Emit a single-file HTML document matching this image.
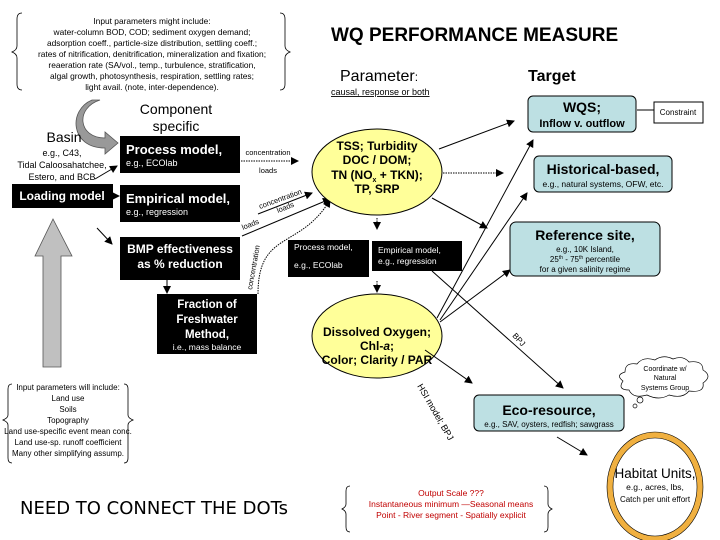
<!DOCTYPE html>
<html><head><meta charset="utf-8"><style>
html,body{margin:0;padding:0;background:#fff}
svg{display:block;font-family:"Liberation Sans",Arial,sans-serif}
</style></head><body>
<svg width="720" height="540" viewBox="0 0 720 540" xmlns="http://www.w3.org/2000/svg">
<defs>
<marker id="a" markerWidth="8" markerHeight="8" refX="7" refY="4" orient="auto" markerUnits="userSpaceOnUse"><path d="M0,0 L8,4 L0,8z" fill="#000"/></marker>
</defs>
<path d="M22,13 q-5,0 -5,6 v27 q0,4 -5,6 q5,2 5,6 v26 q0,6 5,6" fill="none" stroke="#000" stroke-width="0.8"/>
<path d="M280,13 q5,0 5,6 v27 q0,4 5,6 q-5,2 -5,6 v26 q0,6 -5,6" fill="none" stroke="#000" stroke-width="0.8"/>
<g font-size="8.4" text-anchor="middle">
<text x="152" y="24">Input parameters might include:</text>
<text x="152" y="35">water-column BOD, COD; sediment oxygen demand;</text>
<text x="152" y="46">adsorption coeff., particle-size distribution, settling coeff.;</text>
<text x="152" y="57">rates of nitrification, denitrification, mineralization and fixation;</text>
<text x="152" y="68">reaeration rate (SA/vol., temp., turbulence, stratification,</text>
<text x="152" y="79">algal growth, photosynthesis, respiration, settling rates;</text>
<text x="152" y="90">light avail. (note, inter-dependence).</text>
</g>
<text x="331" y="41" font-size="19" font-weight="bold">WQ PERFORMANCE MEASURE</text>
<text x="340" y="81" font-size="16">Parameter<tspan font-size="12">:</tspan></text>
<text x="528" y="81" font-size="16" font-weight="bold">Target</text>
<text x="331" y="95" font-size="9" text-decoration="underline">causal, response or both</text>
<path d="M100,100 C75,108 78,138 105,138 L105,132 L118,143 L105,154 L105,148 C70,148 68,110 92,100z" fill="#999" stroke="#555" stroke-width="0.8"/>
<text x="176" y="114" font-size="14" text-anchor="middle">Component</text>
<text x="176" y="131" font-size="14" text-anchor="middle">specific</text>
<text x="64" y="142" font-size="14" text-anchor="middle">Basin</text>
<g font-size="9" text-anchor="middle"><text x="62" y="156">e.g., C43,</text><text x="62" y="168">Tidal Caloosahatchee,</text><text x="62" y="180">Estero, and BCB</text></g>
<line x1="95" y1="179" x2="117" y2="166" stroke="#000" marker-end="url(#a)"/>
<rect x="120" y="136" width="120" height="37" fill="#000"/>
<text x="126" y="154" font-size="13" font-weight="bold" fill="#fff">Process model,</text>
<text x="126" y="166" font-size="9" fill="#fff">e.g., ECOlab</text>
<rect x="12" y="184" width="101" height="24" fill="#000"/>
<text x="62" y="200" font-size="12" font-weight="bold" fill="#fff" text-anchor="middle">Loading model</text>
<line x1="113" y1="196" x2="119" y2="196" stroke="#000" marker-end="url(#a)"/>
<rect x="120" y="185" width="120" height="37" fill="#000"/>
<text x="126" y="203" font-size="13" font-weight="bold" fill="#fff">Empirical model,</text>
<text x="126" y="215" font-size="9" fill="#fff">e.g., regression</text>
<line x1="97" y1="228" x2="112" y2="244" stroke="#000" marker-end="url(#a)"/>
<rect x="120" y="237" width="120" height="43" fill="#000"/>
<text x="180" y="253" font-size="12" font-weight="bold" fill="#fff" text-anchor="middle">BMP effectiveness</text>
<text x="180" y="268" font-size="12" font-weight="bold" fill="#fff" text-anchor="middle">as % reduction</text>
<line x1="167" y1="280" x2="167" y2="293" stroke="#000" marker-end="url(#a)"/>
<rect x="157" y="294" width="100" height="60" fill="#000"/>
<g fill="#fff" text-anchor="middle" font-size="11.5" font-weight="bold"><text x="207" y="308">Fraction of</text><text x="207" y="323">Freshwater</text><text x="207" y="338">Method,</text></g>
<text x="207" y="350" font-size="8.5" fill="#fff" text-anchor="middle">i.e., mass balance</text>
<path d="M43,367 L43,256 L35,256 L53,219 L72,256 L61,256 L61,367z" fill="#c0c0c0" stroke="#555" stroke-width="0.8"/>
<text x="268" y="155" font-size="7.5" text-anchor="middle">concentration</text>
<line x1="241" y1="161" x2="298" y2="161" stroke="#000" stroke-dasharray="1.5,1" marker-end="url(#a)"/>
<text x="268" y="173" font-size="7.5" text-anchor="middle">loads</text>
<line x1="258" y1="214" x2="312" y2="193" stroke="#000" marker-end="url(#a)"/>
<text x="260" y="209" font-size="7.5" transform="rotate(-20 260 209)">concentration</text>
<line x1="242" y1="236" x2="330" y2="199" stroke="#000" marker-end="url(#a)"/>
<text x="278" y="213" font-size="7.5" transform="rotate(-22 278 213)">loads</text>
<text x="243" y="230" font-size="7.5" transform="rotate(-22 243 230)">loads</text>
<path d="M258,294 C258,230 300,250 330,200" fill="none" stroke="#000" stroke-dasharray="1.5,1" marker-end="url(#a)"/>
<text x="252" y="290" font-size="7.5" transform="rotate(-80 252 290)">concentration</text>
<ellipse cx="377" cy="172" rx="65" ry="43" fill="#ffff99" stroke="#000"/>
<g font-size="12" font-weight="bold" text-anchor="middle"><text x="377" y="150">TSS; Turbidity</text><text x="377" y="164">DOC / DOM;</text><text x="377" y="179">TN (NO<tspan font-size="7" dy="3">x</tspan><tspan dy="-3"> + TKN);</tspan></text><text x="377" y="193">TP, SRP</text></g>
<line x1="377" y1="218" x2="377" y2="229" stroke="#000" stroke-dasharray="1.5,1" marker-end="url(#a)"/>
<rect x="288" y="240" width="81" height="37" fill="#000"/>
<text x="294" y="250" font-size="8.5" fill="#fff">Process model,</text>
<text x="294" y="268" font-size="8.5" fill="#fff">e.g., ECOlab</text>
<rect x="372" y="241" width="90" height="30" fill="#000"/>
<text x="378" y="253" font-size="8.5" fill="#fff">Empirical model,</text>
<text x="378" y="264" font-size="8.5" fill="#fff">e.g., regression</text>
<line x1="377" y1="281" x2="377" y2="292" stroke="#000" stroke-dasharray="1.5,1" marker-end="url(#a)"/>
<ellipse cx="377" cy="336" rx="65" ry="42" fill="#ffff99" stroke="#000"/>
<g font-size="12" font-weight="bold" text-anchor="middle"><text x="377" y="336">Dissolved Oxygen;</text><text x="377" y="350">Chl-<tspan font-style="italic">a</tspan>;</text><text x="377" y="364">Color; Clarity /  PAR</text></g>
<line x1="439" y1="149" x2="514" y2="121" stroke="#000" marker-end="url(#a)"/>
<line x1="443" y1="173" x2="503" y2="173" stroke="#000" stroke-dasharray="1.5,1" marker-end="url(#a)"/>
<line x1="432" y1="198" x2="487" y2="228" stroke="#000" marker-end="url(#a)"/>
<line x1="437" y1="318" x2="533" y2="140" stroke="#000" marker-end="url(#a)"/>
<line x1="440" y1="320" x2="527" y2="193" stroke="#000" marker-end="url(#a)"/>
<line x1="440" y1="322" x2="510" y2="270" stroke="#000" marker-end="url(#a)"/>
<line x1="432" y1="271" x2="563" y2="388" stroke="#000" marker-end="url(#a)"/>
<text x="512" y="336" font-size="8" transform="rotate(48 512 336)">BPJ</text>
<line x1="425" y1="350" x2="472" y2="383" stroke="#000" marker-end="url(#a)"/>
<text x="417" y="386" font-size="9" transform="rotate(60 417 386)">HSI model; BPJ</text>
<line x1="557" y1="437" x2="587" y2="455" stroke="#000" marker-end="url(#a)"/>
<rect x="528" y="96" width="108" height="36" rx="5" fill="#bde0e3" stroke="#000"/>
<text x="582" y="112" font-size="14" font-weight="bold" text-anchor="middle">WQS;</text>
<text x="582" y="127" font-size="11" font-weight="bold" text-anchor="middle">Inflow v. outflow</text>
<line x1="637" y1="110" x2="654" y2="110" stroke="#000"/>
<rect x="654" y="102" width="49" height="21" fill="#fff" stroke="#000"/>
<text x="678" y="115" font-size="8" text-anchor="middle">Constraint</text>
<rect x="534" y="156" width="138" height="36" rx="5" fill="#bde0e3" stroke="#000"/>
<text x="603" y="174" font-size="14" font-weight="bold" text-anchor="middle">Historical-based,</text>
<text x="603" y="187" font-size="8.5" text-anchor="middle">e.g., natural systems, OFW, etc.</text>
<rect x="510" y="222" width="150" height="54" rx="6" fill="#bde0e3" stroke="#000"/>
<text x="585" y="240" font-size="14" font-weight="bold" text-anchor="middle">Reference site,</text>
<text x="585" y="252" font-size="8" text-anchor="middle">e.g., 10K Island,</text>
<text x="585" y="262" font-size="8" text-anchor="middle">25<tspan font-size="5" dy="-3">th</tspan><tspan dy="3"> - 75</tspan><tspan font-size="5" dy="-3">th</tspan><tspan dy="3"> percentile</tspan></text>
<text x="585" y="272" font-size="8" text-anchor="middle">for a given salinity regime</text>
<rect x="474" y="395" width="150" height="36" rx="5" fill="#bde0e3" stroke="#000"/>
<text x="549" y="415" font-size="14" font-weight="bold" text-anchor="middle">Eco-resource,</text>
<text x="549" y="427" font-size="8" text-anchor="middle">e.g., SAV, oysters, redfish; sawgrass</text>
<path d="M625,372 q0,-10 12,-8 q6,-8 18,-4 q8,-6 18,-1 q10,-4 16,3 q14,-2 14,8 q10,6 0,13 q2,10 -14,8 q-6,8 -20,4 q-10,6 -22,0 q-14,4 -18,-5 q-12,0 -6,-9 q-8,-6 2,-9z" fill="#fff" stroke="#000" stroke-width="0.7"/>
<circle cx="640" cy="400" r="3" fill="#fff" stroke="#000" stroke-width="0.7"/>
<circle cx="635" cy="406" r="2" fill="#fff" stroke="#000" stroke-width="0.7"/>
<g font-size="7" text-anchor="middle"><text x="665" y="371">Coordinate w/</text><text x="665" y="380">Natural</text><text x="665" y="390">Systems Group</text></g>
<ellipse cx="655" cy="487" rx="45" ry="52" fill="#fff" stroke="#f0b040" stroke-width="6"/>
<ellipse cx="655" cy="487" rx="48" ry="55" fill="none" stroke="#000" stroke-width="0.6"/>
<ellipse cx="655" cy="487" rx="42" ry="49" fill="none" stroke="#000" stroke-width="0.6"/>
<text x="655" y="478" font-size="13.5" text-anchor="middle">Habitat Units,</text>
<text x="655" y="490" font-size="8.5" text-anchor="middle">e.g., acres, lbs,</text>
<text x="655" y="502" font-size="8" text-anchor="middle">Catch per unit effort</text>
<path d="M12,384 q-4,0 -4,5 v26 q0,3 -5,5 q5,2 5,5 v33 q0,5 4,5" fill="none" stroke="#000" stroke-width="0.8"/>
<path d="M124,384 q4,0 4,5 v26 q0,3 5,5 q-5,2 -5,5 v33 q0,5 -4,5" fill="none" stroke="#000" stroke-width="0.8"/>
<g font-size="8" text-anchor="middle"><text x="68" y="390">Input parameters will include:</text><text x="68" y="401">Land use</text><text x="68" y="412">Soils</text><text x="68" y="423">Topography</text><text x="68" y="434">Land use-specific event mean conc.</text><text x="68" y="445">Land use-sp. runoff coefficient</text><text x="68" y="456">Many other simplifying assump.</text></g>
<text x="20" y="514" font-size="18" font-family="'DejaVu Sans', sans-serif">NEED TO CONNECT THE DOTs</text>
<path d="M350,486 q-4,0 -4,5 v13 q0,3 -4,5 q4,2 4,5 v13 q0,5 4,5" fill="none" stroke="#000" stroke-width="0.8"/>
<path d="M544,486 q4,0 4,5 v13 q0,3 4,5 q-4,2 -4,5 v13 q0,5 -4,5" fill="none" stroke="#000" stroke-width="0.8"/>
<g font-size="8.5" fill="#c00000" text-anchor="middle"><text x="451" y="496">Output Scale ???</text><text x="451" y="507">Instantaneous minimum —Seasonal means</text><text x="451" y="518">Point  - River segment - Spatially explicit</text></g>
</svg>
</body></html>
